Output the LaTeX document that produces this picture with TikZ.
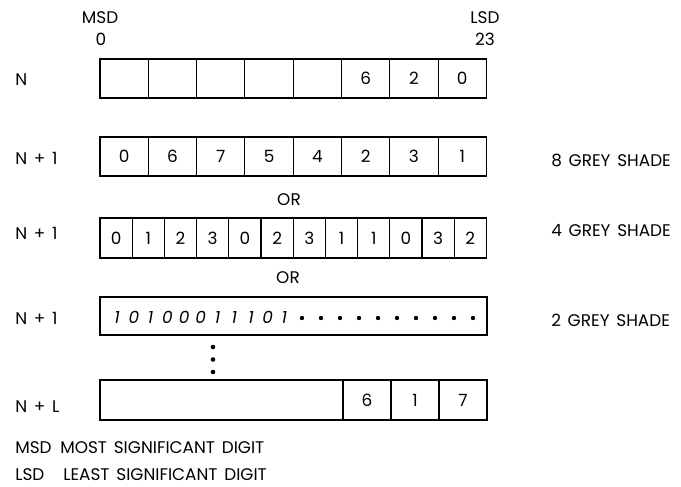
\documentclass[tikz,border=0pt]{standalone}
\usepackage{fontspec}
\setmainfont{Poppins}[WordSpace=1.5]
\usetikzlibrary{positioning}
\newcommand{\bt}[1]{\makebox[11.9pt]{#1}}
\tikzset{cell/.style={draw,line width=.8pt,inner sep=0pt,outer sep=0pt},
 lab/.style={anchor=west,inner sep=0pt},
 dot/.style={fill=black},
 every node/.style={font=\fontsize{12}{14}\selectfont}}
\begin{document}
\begin{tikzpicture}[x=.25mm,y=-.25mm]
\useasboundingbox (0,0) rectangle (681,487);
% word N
\foreach \v [count=\i] in {{},{},{},{},{},6,2,0}
  \node[cell,minimum width=48.3*.25mm,minimum height=39*.25mm] (n\i) at (75.85+48.3*\i,78.5) {\v};
\node (msd) at (100,18) {MSD};\node (zero) at (101,39) {0};
\node (lsd) at (485,18) {LSD};\node (last) at (485,39) {23};
% word N+1, three ways
\foreach \v [count=\i] in {0,6,7,5,4,2,3,1}
  \node[cell,minimum width=48.3*.25mm,minimum height=39*.25mm] (e\i) at (75.85+48.3*\i,156.5) {\v};
\node (or1) at (289,200) {OR};
\foreach \v [count=\i] in {0,1,2,3,0,2,3,1,1,0,3,2}
  \node[cell,minimum width=32.2*.25mm,minimum height=40*.25mm] (f\i) at (83.9+32.2*\i,238) {\v};
\node (or2) at (288,278) {OR};
\node[cell,minimum width=387*.25mm,minimum height=38*.25mm] (t) at (293.5,316) {};
\node[lab] (bits) at (108.5,317) {\itshape\bt1\bt0\bt1\bt0\bt0\bt0\bt1\bt1\bt1\bt0\bt1};
\foreach \k in {0,...,9} \fill[dot] (302+19*\k,318) circle (2.2);
% more words
\foreach \y in {347,359.5,372} \fill[dot] (213,\y) circle (2.3);
\node[cell,minimum width=243*.25mm,minimum height=40*.25mm] (l0) at (221.5,400) {};
\foreach \v [count=\i] in {6,1,7}
  \node[cell,minimum width=48*.25mm,minimum height=40*.25mm] (l\i) at (319+48*\i,400) {\v};
% row labels
\node[lab] (rn) at (15,80) {N};
\node[lab] (ra) at (15,158) {N + 1};\node[lab] (ga) at (551,160) {8 GREY SHADE};
\node[lab] (rb) at (15,233) {N + 1};\node[lab] (gb) at (551,231) {4 GREY SHADE};
\node[lab] (rc) at (15,318) {N + 1};\node[lab] (gc) at (551,320) {2 GREY SHADE};
\node[lab] (rl) at (15,407) {N + L};
% key
\node[lab] (k1) at (15,448) {MSD};\node[lab] (k1t) at (60,448) {MOST SIGNIFICANT DIGIT};
\node[lab] (k2) at (15,475) {LSD};\node[lab] (k2t) at (63,475) {LEAST SIGNIFICANT DIGIT};
\end{tikzpicture}
\end{document}
